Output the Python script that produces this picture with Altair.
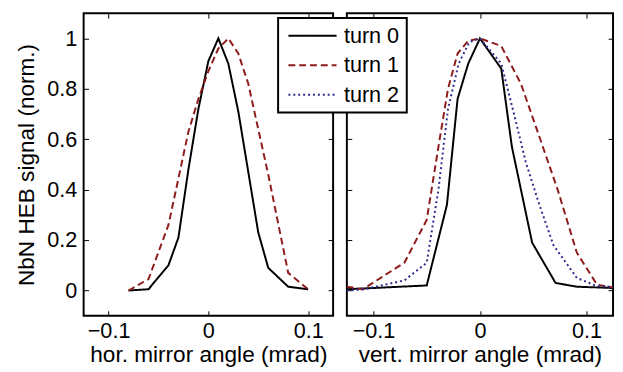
import altair as alt
import pandas as pd

# ---- data ----
turns = ["turn 0", "turn 1", "turn 2"]

hor_t0_x = [-0.08, -0.06, -0.04, -0.03, -0.02, -0.01, 0.0, 0.01, 0.02, 0.03, 0.04, 0.05, 0.06, 0.08, 0.10]
hor_t0_y = [0.0, 0.005, 0.10, 0.21, 0.48, 0.72, 0.91, 1.0, 0.90, 0.71, 0.47, 0.23, 0.09, 0.015, 0.005]
hor_t1_x = [-0.08, -0.06, -0.04, -0.02, -0.01, 0.0, 0.01, 0.02, 0.03, 0.04, 0.06, 0.08, 0.10]
hor_t1_y = [0.0, 0.045, 0.26, 0.63, 0.76, 0.87, 0.96, 1.0, 0.94, 0.82, 0.46, 0.07, 0.005]

ver_t0_x = [-0.125, -0.05, -0.031, -0.021, -0.011, 0.0, 0.02, 0.03, 0.049, 0.071, 0.091, 0.125]
ver_t0_y = [0.005, 0.02, 0.34, 0.76, 0.90, 1.0, 0.88, 0.57, 0.19, 0.03, 0.015, 0.01]
ver_t1_x = [-0.125, -0.11, -0.071, -0.05, -0.039, -0.03, -0.021, -0.011, 0.0, 0.02, 0.0385, 0.055, 0.073, 0.091, 0.11, 0.125]
ver_t1_y = [0.015, 0.005, 0.11, 0.28, 0.57, 0.80, 0.94, 0.99, 1.0, 0.97, 0.82, 0.62, 0.40, 0.15, 0.023, 0.012]
ver_t2_x = [-0.125, -0.11, -0.071, -0.05, -0.039, -0.03, -0.02, -0.01, 0.0, 0.02, 0.032, 0.043, 0.055, 0.069, 0.091, 0.11, 0.125]
ver_t2_y = [0.0, 0.004, 0.04, 0.11, 0.40, 0.72, 0.90, 0.985, 1.0, 0.90, 0.70, 0.51, 0.35, 0.18, 0.05, 0.017, 0.015]

x_ticks = [-0.1, 0.0, 0.1]
y_ticks = [0, 0.2, 0.4, 0.6, 0.8, 1.0]
colors = ["#000000", "#8E1B1B", "#2B2B8C"]
dashes = [[1, 0], [7, 4], [2, 3]]


def frame(pairs):
    rows = []
    for turn, xs, ys in pairs:
        for i, (a, b) in enumerate(zip(xs, ys)):
            rows.append({"turn": turn, "x": a, "y": b, "order": i})
    return pd.DataFrame(rows)


df_h = frame([("turn 0", hor_t0_x, hor_t0_y), ("turn 1", hor_t1_x, hor_t1_y)])
df_v = frame([("turn 0", ver_t0_x, ver_t0_y), ("turn 1", ver_t1_x, ver_t1_y),
              ("turn 2", ver_t2_x, ver_t2_y)])

FONT = "Liberation Sans"
FS = 22
TFS = 23
H = 308
xscale = alt.Scale(domain=[-0.125, 0.125], nice=False, zero=False)
yscale = alt.Scale(domain=[-0.1, 1.1], nice=False, zero=False)

leg = alt.Legend(
    orient="none", legendX=198, legendY=5, title=None,
    fillColor="white", strokeColor="black", padding=7,
    symbolType="M-2.45,0L2.45,0", symbolSize=400, symbolStrokeWidth=2, symbolOffset=17,
    labelFont=FONT, labelFontSize=FS, rowPadding=8, labelOffset=21,
)


def panel(df, W, xtitle, ytitle):
    color = alt.Color("turn:N", scale=alt.Scale(domain=turns, range=colors), legend=leg)
    dash = alt.StrokeDash("turn:N", scale=alt.Scale(domain=turns, range=dashes), legend=leg)

    lines = alt.Chart(df).mark_line(strokeWidth=2, clip=True).encode(
        x=alt.X("x:Q", scale=xscale, axis=alt.Axis(
            orient="bottom", values=x_ticks, format="~g", ticks=False, domain=False, grid=False,
            labelPadding=5, title=xtitle, titlePadding=3, labelFlush=False)),
        y=alt.Y("y:Q", scale=yscale, axis=alt.Axis(
            orient="left", values=y_ticks, format="~g", ticks=False, domain=False, grid=False,
            labelPadding=7, labels=ytitle is not None, title=ytitle, titlePadding=8)),
        color=color,
        strokeDash=dash,
        order="order:Q",
    )
    tick_common = dict(labels=False, domain=False, grid=False, ticks=True, tickSize=5,
                       tickWidth=1, tickColor="black", title=None)
    ticks_a = alt.Chart(df).mark_line(opacity=0).encode(
        x=alt.X("x:Q", scale=xscale, axis=alt.Axis(orient="top", offset=-H, values=x_ticks, **tick_common)),
        y=alt.Y("y:Q", scale=yscale, axis=alt.Axis(orient="right", offset=-W, values=y_ticks, **tick_common)),
    )
    ticks_b = alt.Chart(df).mark_line(opacity=0).encode(
        x=alt.X("x:Q", scale=xscale, axis=alt.Axis(orient="bottom", offset=-H, values=x_ticks, **tick_common)),
        y=alt.Y("y:Q", scale=yscale, axis=alt.Axis(orient="left", offset=-W, values=y_ticks, **tick_common)),
    )
    return alt.layer(lines, ticks_a, ticks_b).resolve_axis(x="independent", y="independent").properties(
        width=W, height=H)


left = panel(df_h, 254, "hor. mirror angle (mrad)", "NbN HEB signal (norm.)")
right = panel(df_v, 271, "vert. mirror angle (mrad)", None)

chart = alt.hconcat(left, right, spacing=10).properties(
    padding={"left": 7, "top": 0, "right": 0, "bottom": 0}
).configure_view(stroke="black", strokeWidth=2).configure_axis(
    labelFont=FONT, labelFontSize=FS, labelColor="black",
    titleFont=FONT, titleFontSize=TFS, titleFontWeight="normal", titleColor="black",
).configure_legend(labelColor="black", strokeWidth=2)

chart.save("out.html", embed_options={"renderer": "svg", "actions": False})
